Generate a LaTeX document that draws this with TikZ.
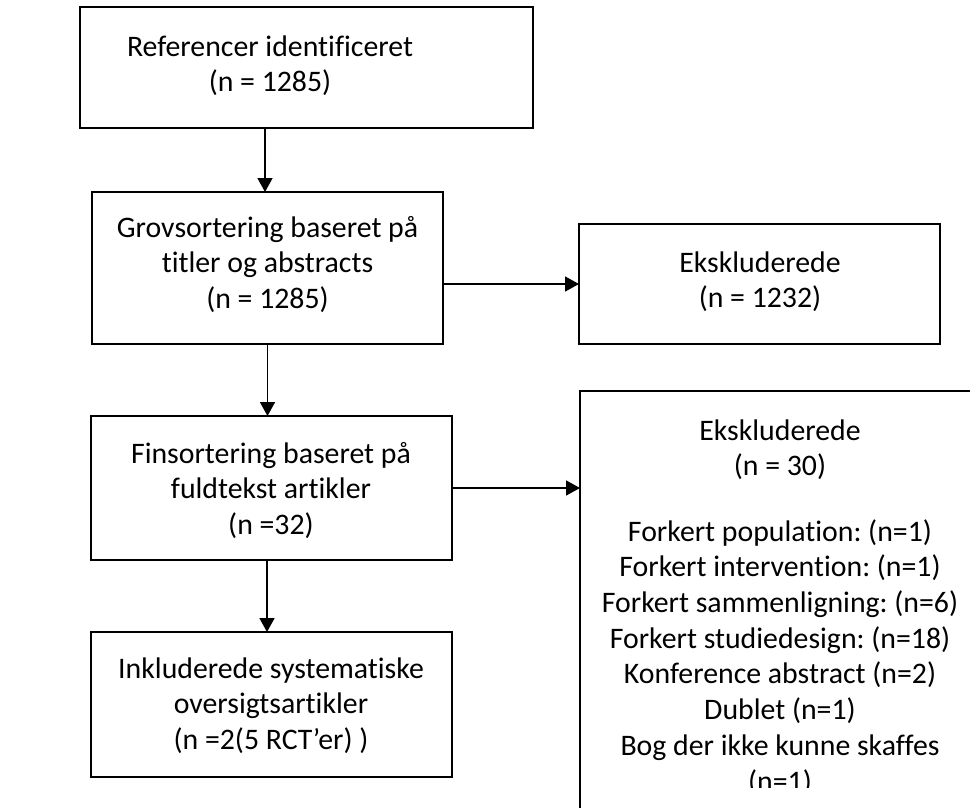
\documentclass[tikz,border=0pt]{standalone}
\usepackage{fontspec}
\setmainfont[Ligatures=NoCommon]{Carlito}
\usetikzlibrary{arrows.meta}
\tikzset{
  box/.style={draw=black, line width=1.6pt, inner sep=0pt, outer sep=0pt, fill=none},
  txt/.style={inner sep=0pt, outer sep=0pt, anchor=base, font=\fontsize{29.8}{35.7}\selectfont},
  arr/.style={line width=1.6pt, -{Triangle[width=15pt,length=14pt]}}
}
\newcommand{\ml}[1]{\begin{tabular}[t]{@{}c@{}}#1\end{tabular}}
\frenchspacing
\begin{document}
\begin{tikzpicture}[x=1pt,y=1pt]
\useasboundingbox (0,0) rectangle (970,-807);
\fill[white] (0,0) rectangle (970,-807);
\clip (0,0) rectangle (970,-807);
% boxes
\node[box, minimum width=453pt, minimum height=121pt] (b1) at (306.5,-67.5) {};
\node[box, minimum width=351pt, minimum height=152pt] (b2) at (267.5,-268) {};
\node[box, minimum width=361pt, minimum height=144pt] (b3) at (271.5,-488) {};
\node[box, minimum width=361pt, minimum height=145pt] (b4) at (271.5,-704.5) {};
\node[box, minimum width=361pt, minimum height=120pt] (e1) at (759.5,-284) {};
\node[box, minimum width=420pt, minimum height=449pt] (e2) at (790,-615.5) {};
% texts
\node[txt] (t1) at (270,-56) {\ml{Referencer identificeret\\(n = 1285)}};
\node[txt] (t2) at (267.5,-237) {\ml{Grovsortering baseret på\\titler og abstracts\\(n = 1285)}};
\node[txt] (t3) at (271,-463) {\ml{Finsortering baseret på\\fuldtekst artikler\\(n =32)}};
\node[txt] (t4) at (271,-678) {\ml{Inkluderede systematiske\\oversigtsartikler\\(n =2(5 RCT’er) )}};
\node[txt] (te1) at (760,-272) {\ml{Ekskluderede\\(n = 1232)}};
\begin{scope}
\clip (0,0) rectangle (970,-787);
\node[txt] (te2) at (780,-440) {\ml{Ekskluderede\\(n = 30)\\[-6pt] \\Forkert population: (n=1)\\Forkert intervention: (n=1)\\Forkert sammenligning: (n=6)\\Forkert studiedesign: (n=18)\\Konference abstract (n=2)\\Dublet (n=1)\\Bog der ikke kunne skaffes\\(n=1)}};
\end{scope}
% arrows
\draw[arr] ([xshift=-41.5pt]b1.south) -- ([xshift=-2.5pt]b2.north);
\draw[arr] (b2.south) -- (b2.south |- b3.north);
\draw[arr] ([xshift=-4.5pt]b3.south) -- ([xshift=-4.5pt]b4.north);
\draw[arr] (b2.east |- e1.west) -- (e1.west);
\draw[arr] (b3.east) -- (b3.east -| e2.west);
\end{tikzpicture}
\end{document}
